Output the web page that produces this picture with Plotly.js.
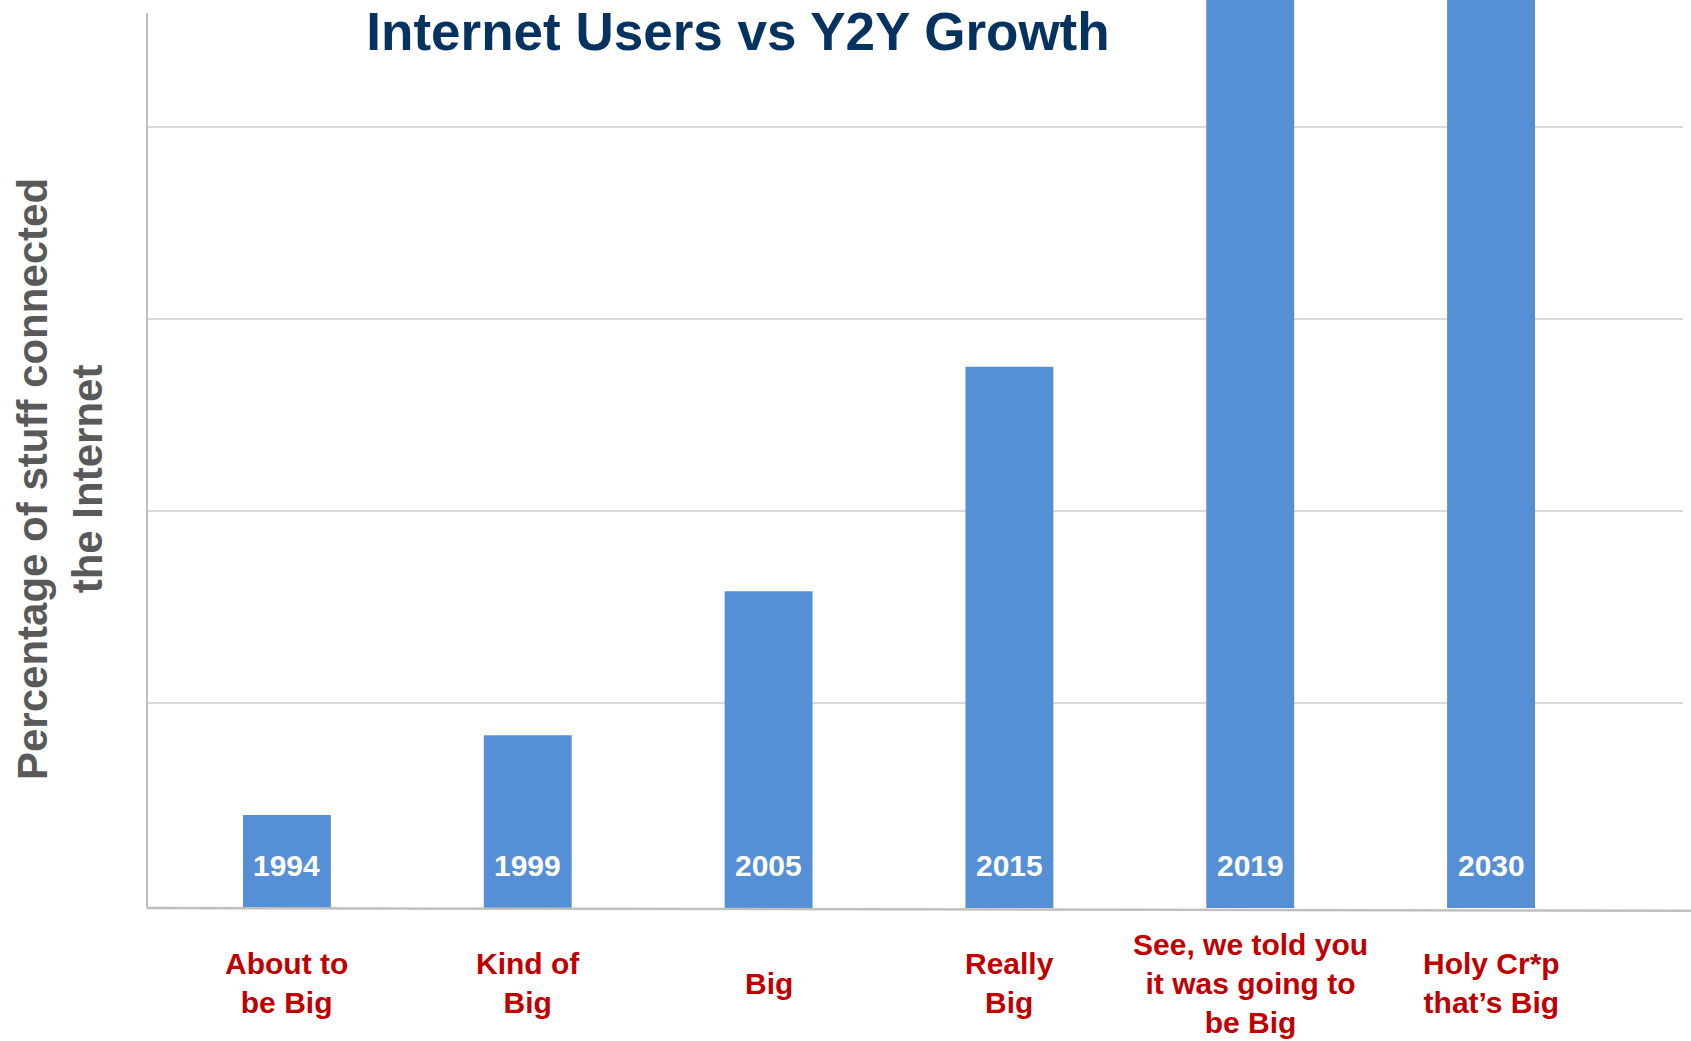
<!DOCTYPE html>
<html>
<head>
<meta charset="utf-8">
<script src="https://cdn.plot.ly/plotly-3.0.1.min.js"></script>
<style>html,body{margin:0;padding:0;background:#fff;}#chart{width:1691px;height:1041px;}</style>
</head>
<body>
<div id="chart"></div>
<script>
// ---- data ----
const years = ["1994", "1999", "2005", "2015", "2019", "2030"];
const values = [9.7, 18.0, 33.0, 56.4, 110, 110];
const captions = [
  "About to<br>be Big",
  "Kind of<br>Big",
  "Big",
  "Really<br>Big",
  "See, we told you<br>it was going to<br>be Big",
  "Holy Cr*p<br>that’s Big"
];
const chartTitle = "Internet Users vs Y2Y Growth";
const yTitle = "Percentage of stuff connected<br>the Internet";

// ---- styling / layout ----
const W = 1691, H = 1041;
const mL = 147, mR = 8, mT = 0, mB = 133;
const plotH = H - mT - mB;
const gridStep = 20;          // value spacing between gridlines
const gridOffset = 1.354;     // gridlines are slightly offset from the baseline
const yMax = 94.6;
const gridVals = [1, 2, 3, 4].map(k => gridOffset + gridStep * k);
const font = '"Liberation Sans", Arial, Helvetica, sans-serif';

const trace = {
  type: 'bar',
  x: years,
  y: values,
  marker: {color: '#5590d6', line: {width: 0}},
  width: 0.365,
  hoverinfo: 'skip',
  cliponaxis: true
};

const annotations = [];
years.forEach((yr, i) => {
  annotations.push({
    x: i, y: 0, xref: 'x', yref: 'y',
    text: '<b>' + yr + '</b>',
    showarrow: false, xanchor: 'center', yanchor: 'bottom', yshift: 24,
    font: {family: font, size: 30, color: '#ffffff'}
  });
  annotations.push({
    x: i, y: (plotH - (983 - mT)) / plotH, xref: 'x', yref: 'paper',
    text: '<b>' + captions[i] + '</b>',
    showarrow: false, xanchor: 'center', yanchor: 'middle',
    font: {family: font, size: 30, color: '#c00000'}
  });
});
annotations.push({
  x: (60 - mL) / (W - mL - mR), y: (plotH - (479 - mT)) / plotH,
  xref: 'paper', yref: 'paper',
  text: '<b>' + yTitle + '</b>', textangle: -90,
  showarrow: false, xanchor: 'center', yanchor: 'middle',
  font: {family: font, size: 42, color: '#595959'}
});

const layout = {
  width: W, height: H,
  margin: {l: mL, r: mR, t: mT, b: mB, pad: 0},
  paper_bgcolor: '#ffffff', plot_bgcolor: '#ffffff',
  showlegend: false,
  title: {
    text: '<b>' + chartTitle + '</b>',
    x: 738 / W, xref: 'container', xanchor: 'center',
    y: 1 - 31 / H, yref: 'container', yanchor: 'middle',
    font: {family: font, size: 53, color: '#05325f'}
  },
  xaxis: {
    type: 'category',
    range: [-0.581, 5.797],
    showticklabels: false, ticks: '',
    showgrid: false, zeroline: false,
    showline: false
  },
  yaxis: {
    range: [0, yMax],
    tickmode: 'array', tickvals: gridVals,
    showticklabels: false, ticks: '',
    showgrid: true, gridcolor: '#d9d9d9', gridwidth: 2,
    zeroline: false, showline: false
  },
  shapes: [{
    type: 'line', xref: 'paper', yref: 'paper',
    x0: 0, x1: 0, y0: 0, y1: (plotH - 13) / plotH,
    line: {color: '#bfbfbf', width: 2}
  }, {
    type: 'line', xref: 'paper', yref: 'paper',
    x0: 0, x1: (W - mL) / (W - mL - mR), y0: 0, y1: -0.003,
    line: {color: '#bfbfbf', width: 2.5}
  }],
  annotations: annotations
};

Plotly.newPlot('chart', [trace], layout, {displayModeBar: false, staticPlot: true});
</script>
</body>
</html>
